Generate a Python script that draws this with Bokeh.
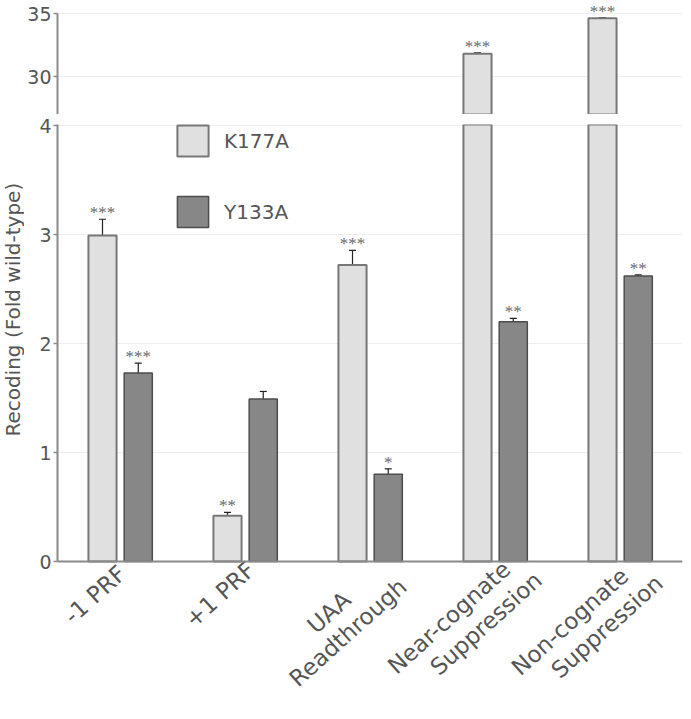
import math
from bokeh.plotting import figure
from bokeh.layouts import column, row
from bokeh.models import (ColumnDataSource, Whisker, LabelSet, Legend, LegendItem,
                          FixedTicker, TeeHead, Range1d, FactorRange, Span)
from bokeh.core.properties import value
from bokeh.transform import dodge
from bokeh.embed import file_html
from bokeh.resources import INLINE

# ---------------- data ----------------
categories = ["-1 PRF", "+1 PRF", "UAA\nReadthrough",
              "Near-cognate\nSuppression", "Non-cognate\nSuppression"]
series_names = ["K177A", "Y133A"]
k177a = [2.99, 0.42, 2.72, 31.82, 34.65]
k177a_err = [0.15, 0.03, 0.135, 0.06, 0.04]
k177a_stars = ["***", "**", "***", "***", "***"]
y133a = [1.73, 1.49, 0.80, 2.20, 2.62]
y133a_err = [0.09, 0.07, 0.05, 0.03, 0.01]
y133a_stars = ["***", "", "*", "**", "**"]
top_ticks = [30, 35]
bottom_ticks = [0, 1, 2, 3, 4]
y_label = "Recoding (Fold wild-type)"

# ---------------- style ----------------
FONT = "DejaVu Sans"
TXT = "#555555"
AX = "#8a8a8a"
GRID = "#eeeeee"
LIGHT_FILL, LIGHT_LINE = "#e0e0e0", "#777777"
DARK_FILL, DARK_LINE = "#878787", "#4d4d4d"
OFF_L, OFF_D, BAR_W = -0.14, 0.146, 0.225
LABEL_ANGLE = math.radians(42)
# screen offsets (px) of each category-label line centre from its tick on the x axis
LINE1_OFF = [(-25, 33), (-25, 33), (-41, 51), (-46, 56), (-50, 60)]
LINE2_OFF = [(0, 0), (0, 0), (-22, 71), (-9, 62), (-13, 65)]
LEFT = 31          # room for the tick labels
YLAB_W = 24        # strip holding the y-axis title
FRAME_W = 625
BOT_PLOT_H = 437   # px of the lower panel above the x axis
LABEL_H = 150      # px below the x axis for the category labels

TOP_RANGE = (26.97, 36.06)
BOT_TOP = 4.0092
PX_PER_UNIT = BOT_PLOT_H / BOT_TOP
BOT_RANGE = (-LABEL_H / PX_PER_UNIT, BOT_TOP)


def make_src(vals, errs, stars, lo=None, hi=None):
    rows = [(c, v, e, s) for c, v, e, s in zip(categories, vals, errs, stars)
            if (lo is None or v > lo) and (hi is None or v < hi)]
    return ColumnDataSource(dict(
        cat=[r[0] for r in rows], val=[r[1] for r in rows],
        upper=[r[1] + r[2] for r in rows], lower=[r[1] - r[2] for r in rows],
        stars=[r[3] for r in rows]))


x_range = FactorRange(factors=categories, range_padding=0, factor_padding=0)


def base_fig(y_rng, frame_h, ticks, min_top):
    p = figure(x_range=x_range, y_range=Range1d(*y_rng), frame_width=FRAME_W, frame_height=frame_h,
               min_border_left=LEFT, min_border_right=6, min_border_top=min_top,
               min_border_bottom=0, output_backend="svg", toolbar_location=None)
    p.outline_line_color = None
    p.xgrid.grid_line_color = None
    p.ygrid.grid_line_color = GRID
    p.ygrid.grid_line_width = 1
    p.xaxis.visible = False
    p.yaxis.ticker = FixedTicker(ticks=ticks)
    p.yaxis.axis_line_color = AX
    p.yaxis.axis_line_width = 2
    p.yaxis.major_tick_line_color = AX
    p.yaxis.major_tick_line_width = 1.5
    p.yaxis.major_tick_out = 4
    p.yaxis.major_tick_in = 0
    p.yaxis.minor_tick_line_color = None
    p.yaxis.major_label_standoff = 2
    p.yaxis.major_label_text_font = FONT
    p.yaxis.major_label_text_font_size = "19px"
    p.yaxis.major_label_text_color = TXT
    return p


def draw(p, lo, hi):
    src_k = make_src(k177a, k177a_err, k177a_stars, lo, None)
    src_y = make_src(y133a, y133a_err, y133a_stars, lo, None)
    rk = p.vbar(x=dodge("cat", OFF_L, range=x_range), top="val", bottom=0, width=BAR_W,
                source=src_k, fill_color=LIGHT_FILL, line_color=LIGHT_LINE, line_width=2)
    ry = p.vbar(x=dodge("cat", OFF_D, range=x_range), top="val", bottom=0, width=BAR_W,
                source=src_y, fill_color=DARK_FILL, line_color=DARK_LINE, line_width=1.5)
    for vals, errs, stars, off in ((k177a, k177a_err, k177a_stars, OFF_L),
                                   (y133a, y133a_err, y133a_stars, OFF_D)):
        s = make_src(vals, errs, stars, lo, hi)
        w = Whisker(base=dodge("cat", off, range=x_range), upper="upper", lower="lower", source=s,
                    line_color="#222222", line_width=1.2,
                    upper_head=TeeHead(size=7, line_color="#222222", line_width=1.2),
                    lower_head=TeeHead(size=7, line_color="#222222", line_width=1.2))
        p.add_layout(w)
        ls = LabelSet(x=dodge("cat", off, range=x_range), y="upper", text="stars", source=s,
                      y_offset=1, text_align="center", text_baseline="alphabetic",
                      text_font=FONT, text_font_size="17px", text_color="#6a6a6a")
        p.add_layout(ls)
    return rk, ry


# ---------------- top panel ----------------
top = base_fig(TOP_RANGE, 114, top_ticks, 0)
top.yaxis.bounds = (TOP_RANGE[0], 35)
draw(top, TOP_RANGE[0], None)

# ---------------- bottom panel (with room for the category labels) ----------------
bot = base_fig(BOT_RANGE, BOT_PLOT_H + LABEL_H, bottom_ticks, 10)
bot.yaxis.bounds = (0, BOT_TOP)
rk, ry = draw(bot, None, BOT_TOP)
bot.add_layout(Span(location=0, dimension="width", line_color=AX, line_width=2))

legend = Legend(items=[LegendItem(label=series_names[0], renderers=[rk]),
                       LegendItem(label=series_names[1], renderers=[ry])],
                location=(116, 330 + LABEL_H), orientation="vertical",
                glyph_width=39, glyph_height=39, label_height=39, spacing=32,
                padding=0, margin=0, label_standoff=12,
                border_line_color=None, background_fill_alpha=0,
                label_text_font=FONT, label_text_font_size="20px", label_text_color=TXT)
bot.add_layout(legend)

# category labels, one text per line, rotated like the reference
line1 = [c.split("\n")[0] for c in categories]
line2 = [c.split("\n")[1] if "\n" in c else "" for c in categories]
for texts, offs in ((line1, LINE1_OFF), (line2, LINE2_OFF)):
    keep = [i for i, t in enumerate(texts) if t]
    s = ColumnDataSource(dict(cat=[categories[i] for i in keep], t=[texts[i] for i in keep],
                              yy=[-offs[i][1] / PX_PER_UNIT for i in keep],
                              xo=[offs[i][0] for i in keep]))
    bot.text(x="cat", y="yy", text="t", x_offset="xo", source=s, angle=LABEL_ANGLE,
             text_align="center", text_baseline="middle",
             text_font=value(FONT), text_font_size=value("23px"), text_color=TXT)

# ---------------- y-axis title strip (shares the bottom panel's y scale) ----------------
ylab = figure(x_range=Range1d(0, YLAB_W), y_range=bot.y_range, frame_width=YLAB_W,
              frame_height=BOT_PLOT_H + LABEL_H,
              min_border_left=0, min_border_right=0, min_border_top=124, min_border_bottom=0,
              output_backend="svg", toolbar_location=None)
ylab.outline_line_color = None
ylab.xgrid.grid_line_color = None
ylab.ygrid.grid_line_color = None
ylab.xaxis.visible = False
ylab.yaxis.visible = False
ylab.text(x=[YLAB_W / 2], y=[2.31], text=[y_label], angle=math.pi / 2,
          text_align="center", text_baseline="middle",
          text_font=value(FONT), text_font_size=value("20px"), text_color=TXT)

layout = row(ylab, column(top, bot, spacing=0), spacing=0)
open("out.html", "w").write(file_html(layout, INLINE))
